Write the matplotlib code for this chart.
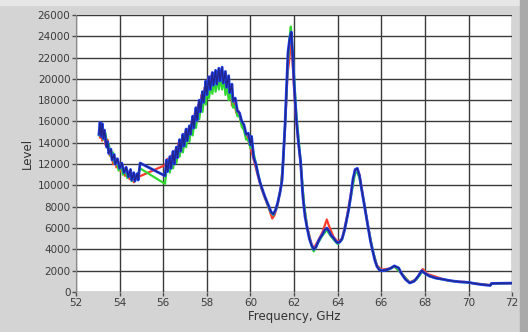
import matplotlib
matplotlib.use("Agg")
import matplotlib.pyplot as plt
from matplotlib.patches import Rectangle

# frequency (GHz) / level pairs
navy_f = [53.05, 53.1, 53.15, 53.2, 53.25, 53.3, 53.4, 53.45, 53.5, 53.6,
          53.65, 53.75, 53.8, 53.9, 54.0, 54.1, 54.2, 54.3, 54.4, 54.5,
          54.55, 54.65, 54.7, 54.8, 54.85, 54.94, 56.08, 56.15, 56.2, 56.3,
          56.35, 56.45, 56.5, 56.6, 56.65, 56.75, 56.8, 56.9, 56.95, 57.05,
          57.1, 57.2, 57.25, 57.35, 57.4, 57.5, 57.55, 57.65, 57.7, 57.8,
          57.85, 57.95, 58.0, 58.1, 58.15, 58.25, 58.3, 58.4, 58.45, 58.55,
          58.6, 58.7, 58.75, 58.85, 58.9, 59.0, 59.05, 59.15, 59.2, 59.3,
          59.4, 59.5, 59.6, 59.7, 59.8, 59.9, 60.0, 60.05, 60.15, 60.25,
          60.35, 60.45, 60.55, 60.65, 60.75, 60.85, 60.95, 61.05, 61.15, 61.25,
          61.35, 61.45, 61.5, 61.58, 61.65, 61.72, 61.8, 61.87, 61.93, 62.0,
          62.1, 62.2, 62.3, 62.4, 62.5, 62.6, 62.7, 62.8, 62.9, 63.0,
          63.1, 63.2, 63.3, 63.4, 63.5, 63.6, 63.7, 63.8, 63.9, 64.0,
          64.1, 64.2, 64.3, 64.4, 64.5, 64.6, 64.7, 64.8, 64.9, 65.0,
          65.1, 65.2, 65.3, 65.4, 65.5, 65.6, 65.7, 65.8, 65.9, 66.0,
          66.2, 66.4, 66.6, 66.8, 66.9, 67.1, 67.3, 67.5, 67.7, 67.85,
          68.0, 68.2, 68.5, 68.8, 69.2, 69.6, 70.0, 70.4, 70.8, 71.0,
          71.05, 71.5, 72.0]
navy_lvl = [14800, 15900, 14600, 15800, 14400, 15200, 13600, 14100, 13000, 13400,
            12400, 12900, 12000, 12500, 11600, 12100, 11200, 11700, 10800, 11500,
            10500, 11200, 10400, 11100, 10500, 12100, 10900, 12400, 11300, 12700,
            11600, 13200, 12000, 13600, 12600, 14300, 13200, 14800, 13700, 15300,
            14200, 15600, 14800, 16500, 15400, 17300, 16100, 18000, 16900, 18800,
            17800, 19800, 18500, 20200, 19000, 20600, 19400, 20800, 19500, 21000,
            19800, 21100, 19600, 20700, 19200, 20300, 18700, 19500, 17900, 18200,
            17000, 16800, 16000, 15700, 14800, 14900, 13800, 14600, 12600, 12000,
            11000, 10200, 9600, 9000, 8500, 8000, 7500, 7300, 7700, 8400,
            9300, 10500, 12500, 15500, 19000, 22500, 23800, 24400, 22500, 19600,
            16300, 14000, 12200, 9000, 7100, 6000, 5000, 4400, 4000, 4200,
            4700, 5100, 5400, 5800, 6000, 5700, 5300, 5100, 4800, 4600,
            4700, 5000, 5700, 6700, 7700, 9000, 10600, 11500, 11600, 10900,
            9600, 8400, 7200, 6000, 4800, 3900, 3000, 2400, 2100, 2000,
            2050, 2200, 2450, 2250, 1800, 1200, 850, 1000, 1500, 2000,
            1750, 1500, 1300, 1200, 1050, 950, 900, 750, 650, 620,
            800, 820, 830]

red_f = [53.1, 53.15, 53.2, 53.3, 53.35, 53.45, 53.55, 53.6, 53.7, 53.8,
         53.85, 53.95, 54.05, 54.15, 54.25, 54.35, 54.45, 54.55, 54.65, 54.75,
         56.08, 56.2, 56.25, 56.35, 56.4, 56.55, 56.6, 56.7, 56.75, 56.85,
         56.9, 57.0, 57.05, 57.15, 57.2, 57.3, 57.35, 57.45, 57.5, 57.6,
         57.65, 57.75, 57.8, 57.9, 57.95, 58.05, 58.1, 58.2, 58.25, 58.35,
         58.4, 58.5, 58.55, 58.65, 58.7, 58.8, 58.85, 58.95, 59.0, 59.1,
         59.15, 59.25, 59.35, 59.45, 59.55, 59.65, 59.75, 59.85, 59.95, 60.1,
         60.3, 60.5, 60.7, 60.85, 61.0, 61.1, 61.25, 61.4, 61.5, 61.6,
         61.7, 61.78, 61.85, 61.92, 62.0, 62.1, 62.3, 62.45, 62.6, 62.8,
         62.9, 63.1, 63.3, 63.5, 63.6, 63.8, 64.0, 64.2, 64.4, 64.6,
         64.8, 64.9, 65.0, 65.2, 65.4, 65.6, 65.8, 66.0, 66.4, 66.6,
         66.9, 67.3, 67.6, 67.9, 68.1, 68.4, 68.7, 69.0, 69.4, 69.8,
         70.3, 70.8, 71.0, 71.05, 72.0]
red_lvl = [14500, 15300, 14200, 15000, 13800, 14300, 12800, 13300, 12000, 12600,
           11700, 12200, 11300, 11800, 10900, 11400, 10600, 11000, 10300, 10700,
           11900, 12500, 11500, 12800, 11900, 13300, 12300, 14000, 12800, 14300,
           13400, 15000, 14000, 15300, 14500, 16000, 15000, 16800, 15700, 17600,
           16500, 18500, 17300, 19200, 18000, 19900, 18700, 20300, 19000, 20500,
           19200, 20600, 19300, 20800, 19500, 20400, 18900, 19900, 18300, 19000,
           17500, 17800, 16800, 17000, 16000, 15600, 15000, 14600, 13900, 12800,
           11200, 9700, 8600, 7800, 6900, 7200, 8200, 10000, 12300, 16000,
           20500, 21800, 23500, 22000, 19000, 16000, 12000, 8200, 6100, 4500,
           4100, 4800, 5600, 6800, 6200, 5200, 4700, 5000, 6800, 9200,
           11400, 11500, 11000, 8500, 6100, 3900, 2500, 2100, 2200, 2400,
           1800, 900, 1200, 2150, 1700, 1500, 1300, 1100, 1000, 950,
           800, 700, 650, 800, 820]

green_f = [53.05, 53.1, 53.2, 53.25, 53.35, 53.45, 53.5, 53.6, 53.7, 53.75,
           53.85, 53.95, 54.05, 54.15, 54.25, 54.35, 54.45, 54.55, 54.65, 54.75,
           54.94, 56.08, 56.15, 56.25, 56.3, 56.4, 56.45, 56.55, 56.6, 56.7,
           56.75, 56.85, 56.9, 57.0, 57.05, 57.15, 57.2, 57.3, 57.35, 57.45,
           57.5, 57.6, 57.65, 57.75, 57.8, 57.9, 57.95, 58.05, 58.1, 58.2,
           58.25, 58.35, 58.4, 58.5, 58.55, 58.65, 58.7, 58.8, 58.85, 58.95,
           59.0, 59.1, 59.2, 59.3, 59.4, 59.5, 59.6, 59.7, 59.8, 59.9,
           60.0, 60.05, 60.15, 60.3, 60.5, 60.7, 60.9, 61.05, 61.2, 61.4,
           61.5, 61.6, 61.7, 61.8, 61.85, 61.9, 62.0, 62.1, 62.3, 62.45,
           62.6, 62.8, 62.9, 63.1, 63.3, 63.5, 63.7, 63.9, 64.0, 64.2,
           64.4, 64.6, 64.8, 64.9, 65.0, 65.2, 65.4, 65.6, 65.8, 66.0,
           66.4, 66.6, 66.9, 67.3, 67.6, 67.9, 68.1, 68.5, 69.0, 69.5,
           70.0, 70.5, 71.0, 71.05, 72.0]
green_lvl = [14700, 14900, 15500, 14300, 14900, 13500, 13900, 12700, 13100, 12100,
             12500, 11400, 11900, 11000, 11500, 10700, 11300, 10400, 11000, 10600,
             11600, 10150, 11400, 12300, 11200, 12600, 11600, 13000, 12100, 13500,
             12700, 14100, 13100, 14600, 13600, 15000, 14100, 15800, 14700, 16500,
             15400, 17200, 16200, 18000, 16900, 18800, 17600, 19500, 18200, 19900,
             18600, 20100, 18800, 20300, 19000, 20400, 19000, 20000, 18500, 19600,
             18000, 18800, 17300, 17500, 16500, 16500, 15500, 15200, 14300, 14300,
             13500, 14000, 13000, 11500, 9800, 8700, 7600, 7200, 7900, 9800,
             12400, 16200, 21000, 24000, 24900, 23500, 20200, 16800, 12300, 8400,
             6000, 4300, 3800, 4600, 5300, 5800, 5200, 4700, 4500, 4900,
             6600, 8900, 11200, 11200, 10700, 8500, 6000, 4000, 2400, 2000,
             2150, 2400, 1800, 850, 1150, 1950, 1600, 1300, 1100, 950,
             880, 740, 620, 790, 830]

x_ticks = list(range(52, 73, 2))
y_ticks = list(range(0, 26001, 2000))

fig = plt.figure(figsize=(5.28, 3.32), dpi=100, facecolor="#d4d4d4")
# window frame bits
fig.patches.append(Rectangle((0, 0.985), 1, 0.015, transform=fig.transFigure,
                             color="#e6e6e6", zorder=0))
fig.patches.append(Rectangle((0.985, 0), 0.015, 1, transform=fig.transFigure,
                             color="#a9a9a9", zorder=0))

ax = fig.add_axes([0.144, 0.1205, 0.826, 0.8345])
ax.set_facecolor("white")

ax.plot(red_f, red_lvl, color="#ff3a2a", lw=1.6, zorder=3)
ax.plot(green_f, green_lvl, color="#2ed82e", lw=1.6, zorder=3)
ax.plot(navy_f, navy_lvl, color="#1f45ff", lw=2.0, zorder=4)
ax.plot(navy_f, navy_lvl, color="#22258a", lw=1.0, zorder=5)

ax.set_xlim(52, 72)
ax.set_ylim(0, 26000)
ax.set_xticks(x_ticks)
ax.set_yticks(y_ticks)
ax.grid(True, color="#3a3a3a", lw=1.0)
ax.set_axisbelow(True)
for s in ["top", "right", "bottom"]:
    ax.spines[s].set_visible(False)
ax.spines["left"].set_color("#888888")

ax.tick_params(axis="both", length=3, width=1, color="#505050",
               labelsize=7.5, labelcolor="#3c3c3c", pad=1)
ax.set_xlabel("Frequency, GHz", fontsize=8.5, color="#333333", labelpad=2)
ax.set_ylabel("Level", fontsize=8.5, color="#333333", labelpad=3)

fig.savefig("out.png", dpi=100, facecolor=fig.get_facecolor())
